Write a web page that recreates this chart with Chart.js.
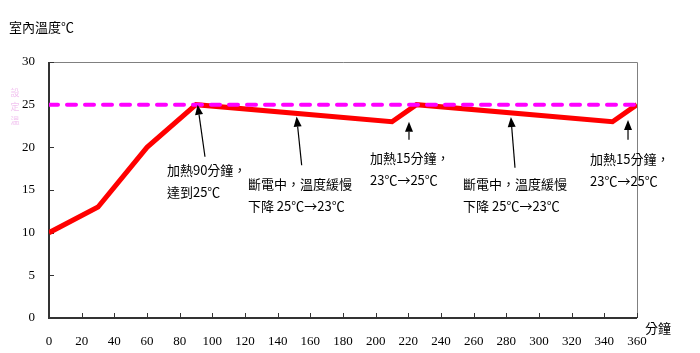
<!DOCTYPE html>
<html>
<head>
<meta charset="utf-8">
<script src="https://cdn.jsdelivr.net/npm/chart.js@4/dist/chart.umd.min.js"></script>
<style>
  html, body { margin: 0; padding: 0; background: #fff; }
  #wrap { width: 700px; height: 353px; position: relative; }
</style>
</head>
<body>
<div id="wrap"><canvas id="c" width="700" height="353"></canvas></div>
<script>
// Room temperature over time: heat to 25℃, then coast down and reheat.
const minutes = [0, 30, 60, 90, 210, 225, 345, 360];
const temps = [10, 13, 20, 25, 23, 25, 23, 25];
const setpointX = [0, 360];
const setpointY = [25, 25];
const xTicks = [0, 20, 40, 60, 80, 100, 120, 140, 160, 180, 200, 220, 240, 260, 280, 300, 320, 340, 360];
const yTicks = [0, 5, 10, 15, 20, 25, 30];

const yTitle = '室內溫度℃';
const xTitle = '分鐘';
const setpointLabel = ['設', '定', '溫'];

// Callouts: arrow tip/tail and text anchor in data units (minutes, ℃).
const notes = [
  { tip: [91, 25], tail: [95.5, 18.9], text: [72.2, 17.3], lines: ['加熱90分鐘，', '達到25℃'] },
  { tip: [151.6, 23.6], tail: [154.7, 17.9], text: [121.8, 15.7], lines: ['斷電中，溫度緩慢', '下降 25℃→23℃'] },
  { tip: [220.4, 23.0], tail: [220.4, 20.9], text: [196.5, 18.75], lines: ['加熱15分鐘，', '23℃→25℃'] },
  { tip: [282.8, 23.55], tail: [285.3, 17.6], text: [253.5, 15.7], lines: ['斷電中，溫度緩慢', '下降 25℃→23℃'] },
  { tip: [354.5, 23.2], tail: [354.5, 20.9], text: [331.2, 18.6], lines: ['加熱15分鐘，', '23℃→25℃'] },
];

const FONT = "'Liberation Serif', 'Noto Sans CJK TC', serif";
const CJK = "'Noto Sans CJK TC', 'Liberation Serif', sans-serif";

const frame = {
  id: 'frame',
  beforeDatasetsDraw(chart) {
    const { ctx, chartArea: a, scales } = chart;
    ctx.save();
    // thin gray top/right border
    ctx.strokeStyle = '#808080';
    ctx.lineWidth = 1;
    ctx.beginPath();
    ctx.moveTo(a.left, a.top + 0.5);
    ctx.lineTo(a.right + 0.5, a.top + 0.5);
    ctx.lineTo(a.right + 0.5, a.bottom);
    ctx.stroke();
    // heavy left/bottom axes
    ctx.strokeStyle = '#333';
    ctx.lineWidth = 2;
    ctx.beginPath();
    ctx.moveTo(a.left, a.top);
    ctx.lineTo(a.left, a.bottom);
    ctx.lineTo(a.right, a.bottom);
    ctx.stroke();
    // inside tick marks
    ctx.lineWidth = 1;
    ctx.beginPath();
    xTicks.forEach((v) => {
      const x = Math.round(scales.x.getPixelForValue(v)) + 0.5;
      ctx.moveTo(x, a.bottom);
      ctx.lineTo(x, a.bottom - 5);
    });
    yTicks.forEach((v) => {
      const y = Math.round(scales.y.getPixelForValue(v)) + 0.5;
      ctx.moveTo(a.left, y);
      ctx.lineTo(a.left + 5, y);
    });
    ctx.stroke();
    ctx.restore();
  },
  afterDraw(chart) {
    const { ctx, chartArea: a, scales } = chart;
    const px = (p) => [scales.x.getPixelForValue(p[0]), scales.y.getPixelForValue(p[1])];
    ctx.save();
    ctx.fillStyle = '#000';
    ctx.font = '13px ' + CJK;
    ctx.textBaseline = 'middle';
    ctx.textAlign = 'left';
    ctx.fillText(yTitle, 9, 27);
    ctx.fillText(xTitle, a.right + 8, 328);
    // faint vertical setpoint label
    ctx.fillStyle = '#f2c4f0';
    ctx.font = '9px ' + CJK;
    ctx.textAlign = 'center';
    setpointLabel.forEach((ch, i) => ctx.fillText(ch, 15, 93 + i * 14));

    // callout arrows and text
    notes.forEach((n) => {
      const [tx, ty] = px(n.tip);
      const [bx, by] = px(n.tail);
      const ang = Math.atan2(ty - by, tx - bx);
      const len = 10, half = 4;
      ctx.strokeStyle = '#000';
      ctx.fillStyle = '#000';
      ctx.lineWidth = 1.2;
      ctx.beginPath();
      ctx.moveTo(bx, by);
      ctx.lineTo(tx - Math.cos(ang) * len, ty - Math.sin(ang) * len);
      ctx.stroke();
      ctx.beginPath();
      ctx.moveTo(tx, ty);
      ctx.lineTo(tx - Math.cos(ang) * len - Math.sin(ang) * half, ty - Math.sin(ang) * len + Math.cos(ang) * half);
      ctx.lineTo(tx - Math.cos(ang) * len + Math.sin(ang) * half, ty - Math.sin(ang) * len - Math.cos(ang) * half);
      ctx.closePath();
      ctx.fill();

      const [lx, ly] = px(n.text);
      ctx.font = '13px ' + CJK;
      ctx.textAlign = 'left';
      n.lines.forEach((s, i) => ctx.fillText(s, lx, ly + i * 22));
    });
    ctx.restore();
  },
};

new Chart(document.getElementById('c'), {
  type: 'line',
  data: {
    datasets: [
      {
        label: 'temp',
        data: minutes.map((m, i) => ({ x: m, y: temps[i] })),
        borderColor: '#ff0000',
        borderWidth: 5,
        pointRadius: 0,
        tension: 0,
        borderJoinStyle: 'miter',
        order: 2,
      },
      {
        label: 'setpoint',
        data: setpointX.map((m, i) => ({ x: m, y: setpointY[i] })),
        borderColor: '#ff00ff',
        borderWidth: 4,
        borderDash: [9, 9],
        borderCapStyle: 'round',
        pointRadius: 0,
        order: 1,
      },
    ],
  },
  options: {
    responsive: false,
    animation: false,
    layout: { padding: { top: 62, right: 63, left: 0, bottom: 0 } },
    plugins: { legend: { display: false }, tooltip: { enabled: false } },
    scales: {
      x: {
        type: 'linear',
        min: 0,
        max: 360,
        afterBuildTicks: (s) => { s.ticks = xTicks.map((v) => ({ value: v })); },
        afterFit: (s) => { s.height = 35; },
        grid: { display: false },
        border: { display: false },
        ticks: { color: '#000', font: { family: FONT, size: 13 }, padding: 8, maxRotation: 0, autoSkip: false },
      },
      y: {
        min: 0,
        max: 30,
        afterBuildTicks: (s) => { s.ticks = yTicks.map((v) => ({ value: v })); },
        afterFit: (s) => { s.width = 49; },
        grid: { display: false },
        border: { display: false },
        ticks: { color: '#000', font: { family: FONT, size: 13 }, padding: 6 },
      },
    },
  },
  plugins: [frame],
});
</script>
</body>
</html>
